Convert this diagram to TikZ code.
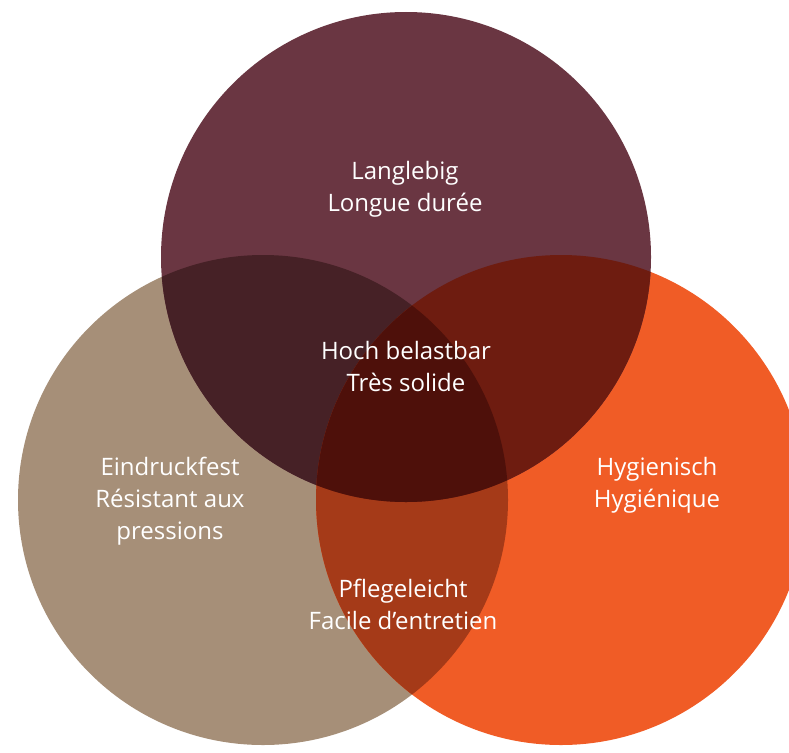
\documentclass[tikz,border=0pt]{standalone}
\usepackage{fontspec}
\setmainfont{Open Sans}

\definecolor{plum}{RGB}{106,54,66}
\definecolor{sand}{RGB}{166,143,120}
\definecolor{rust}{RGB}{240,92,38}
\definecolor{plumsand}{RGB}{70,33,38}
\definecolor{plumrust}{RGB}{110,28,16}
\definecolor{sandrust}{RGB}{165,58,24}
\definecolor{allthree}{RGB}{78,16,10}

\tikzset{
    txt/.style = {text=white, align=center, font=\fontsize{24}{32}\selectfont, inner sep=0pt}
}

\begin{document}
\begin{tikzpicture}[x=1pt,y=-1pt]
    \useasboundingbox (0,0) rectangle (789,752);
    \clip (0,0) rectangle (789,752);
    \coordinate (T) at (406,257);
    \coordinate (L) at (263,500);
    \coordinate (R) at (561,500);
    \def\rad{245pt}
    % draw circles
    \fill[sand] (L) circle (\rad);
    \fill[rust] (R) circle (\rad);
    \fill[plum] (T) circle (\rad);
    % draw overlaps
    \begin{scope}
        \clip (L) circle (\rad);
        \fill[plumsand] (T) circle (\rad);
        \fill[sandrust] (R) circle (\rad);
    \end{scope}
    \begin{scope}
        \clip (R) circle (\rad);
        \fill[plumrust] (T) circle (\rad);
        \clip (L) circle (\rad);
        \fill[allthree] (T) circle (\rad);
    \end{scope}
    % labels
    \node[txt] (langlebig) at (405,189) {Langlebig\\Longue durée};
    \node[txt] (hoch) at (406,366) {Hoch belastbar\\Très solide};
    \node[txt] (eindruck) at (170,501) {Eindruckfest\\Résistant aux\\pressions};
    \node[txt] (hygienisch) at (657,485) {Hygienisch\\Hygiénique};
    \node[txt] (pflege) at (403,604) {Pflegeleicht\\Facile d’entretien};
\end{tikzpicture}
\end{document}
